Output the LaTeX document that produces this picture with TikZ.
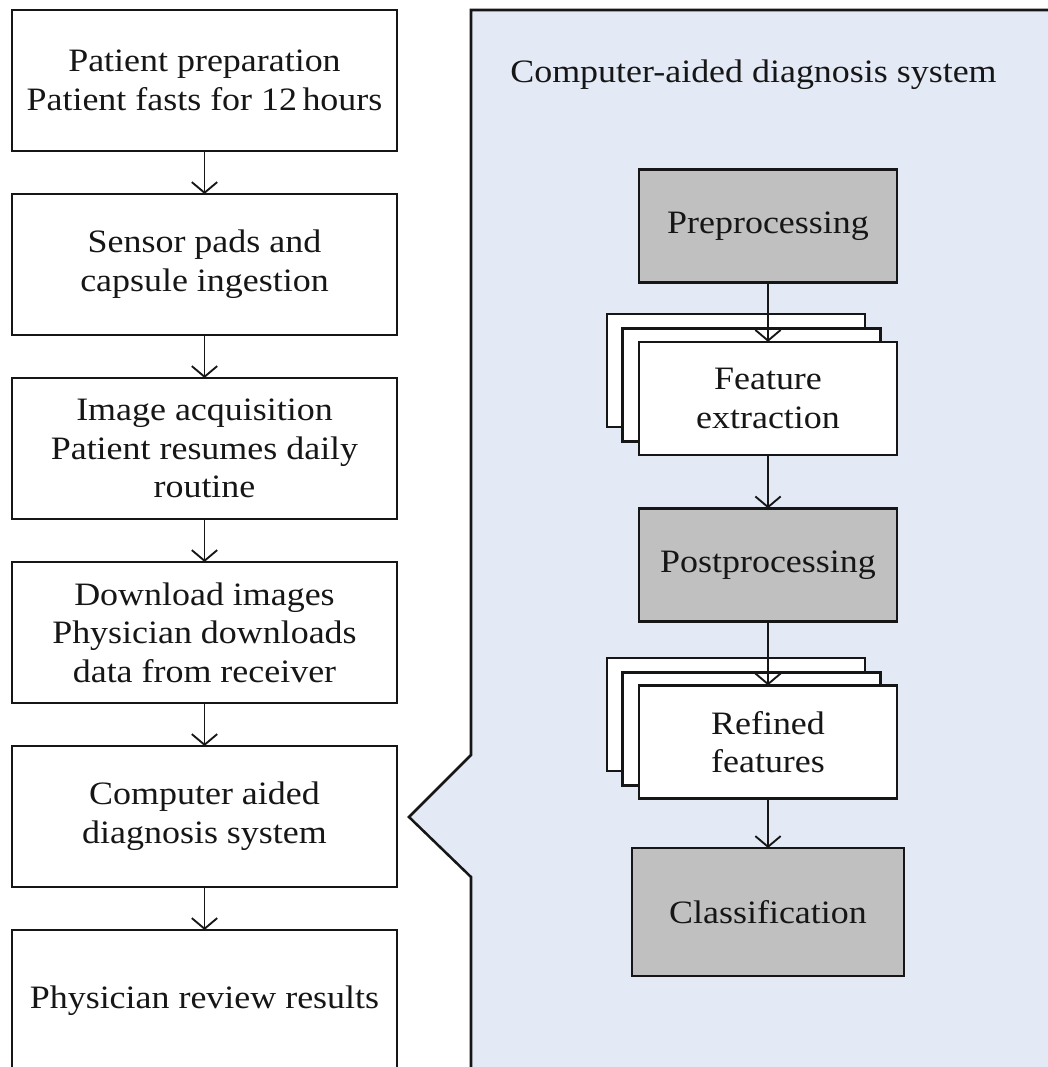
\documentclass[tikz,border=0pt]{standalone}
\usepackage{fontspec}
\setmainfont{Liberation Serif}[FakeStretch=1.1]
\usetikzlibrary{arrows.meta}
\definecolor{panelblue}{HTML}{E4EAF5}
\definecolor{boxgrey}{HTML}{C0C0C0}
\definecolor{ink}{HTML}{161616}
\begin{document}
\begin{tikzpicture}[x=0.75pt,y=-0.75pt,
  every node/.style={text=ink, font=\fontsize{24.5}{29}\selectfont},
  leftbox/.style={draw=ink, line width=1.9pt, fill=white, minimum width=288.75pt, minimum height=105.75pt, align=center, inner sep=0pt, outer sep=0pt},
  rbox/.style={draw=ink, line width=1.9pt, fill=white, minimum width=193.5pt, minimum height=85pt, align=center, inner sep=0pt, outer sep=0pt},
  greybox/.style={rbox, fill=boxgrey},
  flow/.style={draw=ink, line width=1.4pt, -{Straight Barb[length=8pt,width=19pt,line width=1.4pt]}}
]
\clip (0,0) rectangle (1048,1067);
\fill[white] (0,0) rectangle (1048,1067);
% callout panel
\fill[panelblue] (1060,10) -- (471,10) -- (471,755) -- (409,817) -- (471,877) -- (471,1080) -- (1060,1080) -- cycle;
\draw[ink, line width=1.9pt, line join=miter] (1060,10) -- (471,10) -- (471,755) -- (409,817) -- (471,877) -- (471,1080);
% left column
\node[leftbox] (b1) at (204.5,80.5) {Patient preparation\\Patient fasts for 12\,hours};
\node[leftbox] (b2) at (204.5,264.5) {Sensor pads and\\capsule ingestion};
\node[leftbox] (b3) at (204.5,448.5) {Image acquisition\\Patient resumes daily\\routine};
\node[leftbox] (b4) at (204.5,632.5) {Download images\\Physician downloads\\data from receiver};
\node[leftbox] (b5) at (204.5,816.5) {Computer aided\\diagnosis system};
\node[leftbox] (b6) at (204.5,1000.5) {Physician review results};
\draw[flow] (b1.south) -- (b2.north);
\draw[flow] (b2.south) -- (b3.north);
\draw[flow] (b3.south) -- (b4.north);
\draw[flow] (b4.south) -- (b5.north);
\draw[flow] (b5.south) -- (b6.north);
% right column
\node[anchor=base] (title) at (753.5,82) {Computer-aided diagnosis system};
\node[greybox] (pre) at (768,226) {Preprocessing};
\node[rbox] (featC) at (736,370.5) {};
\node[rbox] (featB) at (751.5,385) {};
\node[rbox] (feat) at (768,398.5) {Feature\\extraction};
\node[greybox] (post) at (768,565) {Postprocessing};
\node[rbox] (refC) at (736,714.5) {};
\node[rbox] (refB) at (751.5,729) {};
\node[rbox] (ref) at (768,742) {Refined\\features};
\node[greybox, minimum width=204pt, minimum height=96pt] (cls) at (768,912) {Classification};
\draw[flow] (pre.south) -- (feat.north);
\draw[flow] (feat.south) -- (post.north);
\draw[flow] (post.south) -- (ref.north);
\draw[flow] (ref.south) -- (cls.north);
\end{tikzpicture}
\end{document}
